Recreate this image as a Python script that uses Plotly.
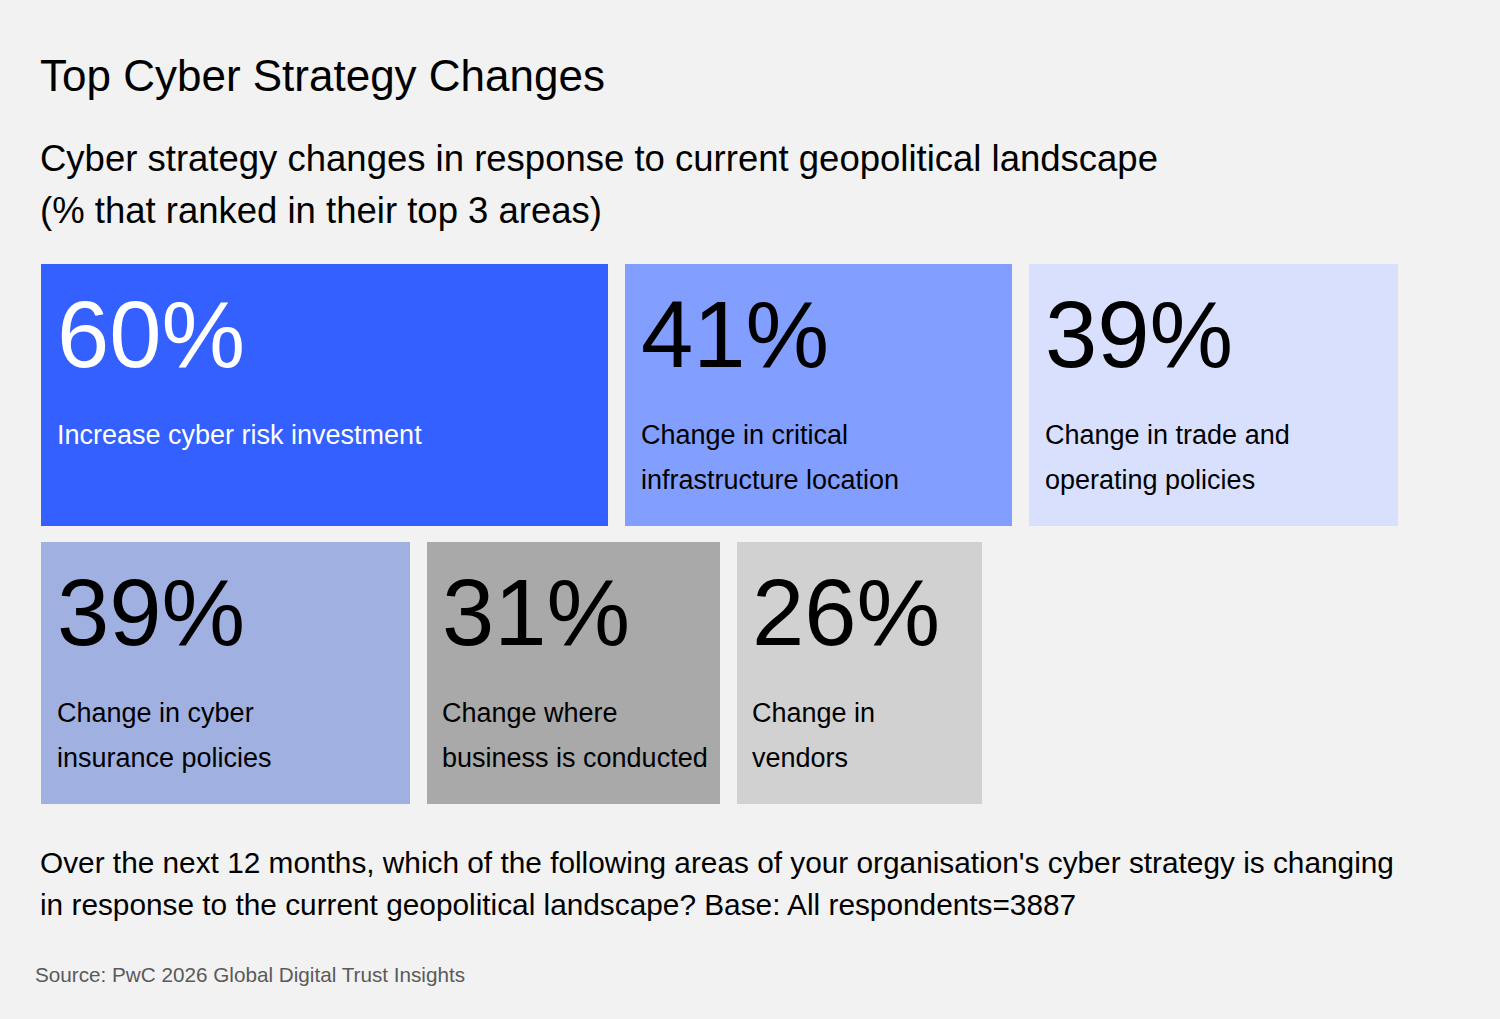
import plotly.graph_objects as go

# ---- data ----
values = [60, 41, 39, 39, 31, 26]
value_labels = ["60%", "41%", "39%", "39%", "31%", "26%"]
categories = [
    "Increase cyber risk investment",
    "Change in critical\ninfrastructure location",
    "Change in trade and\noperating policies",
    "Change in cyber\ninsurance policies",
    "Change where\nbusiness is conducted",
    "Change in\nvendors",
]
rows = [0, 0, 0, 1, 1, 1]
colors = ["#3360fe", "#829efe", "#d8e0fe", "#a0b0e1", "#a9a9a9", "#d1d1d1"]
text_colors = ["#ffffff", "#000000", "#000000", "#000000", "#000000", "#000000"]

title = "Top Cyber Strategy Changes"
subtitle = ["Cyber strategy changes in response to current geopolitical landscape",
            "(% that ranked in their top 3 areas)"]
footer = ["Over the next 12 months, which of the following areas of your organisation's cyber strategy is changing",
          "in response to the current geopolitical landscape? Base: All respondents=3887"]
source = "Source: PwC 2026 Global Digital Trust Insights"

# ---- layout constants ----
W, H = 1500, 1019
PX_PER_UNIT = 9.45
LEFT_PX = 41
GAP = 1.8           # gap between boxes in value units
ROW_TOP = [264, 542]
ROW_H = 262
PAD = 1.75
FONT = "Liberation Sans"

xmin = -LEFT_PX / PX_PER_UNIT
xmax = (W - LEFT_PX) / PX_PER_UNIT

fig = go.Figure()
annotations = []

def add_text(x, baseline, text, size, color="#000000"):
    annotations.append(dict(
        x=x, y=baseline - 0.32 * size, xref="x", yref="y", xshift=-3,
        text=text, showarrow=False, xanchor="left", yanchor="middle",
        font=dict(family=FONT, size=size, color=color), align="left"))

starts = []
cursor = {0: 0.0, 1: 0.0}
for v, r in zip(values, rows):
    starts.append(cursor[r])
    cursor[r] += v + GAP

for i, (v, r) in enumerate(zip(values, rows)):
    top = ROW_TOP[r]
    fig.add_trace(go.Bar(
        orientation="h", x=[v], base=[starts[i]], y=[top + ROW_H / 2],
        width=[ROW_H], marker=dict(color=colors[i], line=dict(width=0)),
        hoverinfo="skip", showlegend=False))
    add_text(starts[i] + PAD, top + 101, value_labels[i], 94, text_colors[i])
    for j, line in enumerate(categories[i].split("\n")):
        add_text(starts[i] + PAD, top + 180 + 44.5 * j, line, 27, text_colors[i])

add_text(0, 90, title, 44, "#000000")
add_text(0, 170, subtitle[0], 36.5, "#000000")
add_text(0, 222, subtitle[1], 36.5, "#000000")
add_text(0, 872, footer[0], 29.8, "#000000")
add_text(0, 914, footer[1], 29.8, "#000000")
add_text(-5 / PX_PER_UNIT, 981, source, 20.7, "#5a5a5a")

fig.update_layout(
    width=W, height=H,
    margin=dict(l=0, r=0, t=0, b=0),
    paper_bgcolor="#f2f2f2", plot_bgcolor="#f2f2f2",
    xaxis=dict(range=[xmin, xmax], visible=False, fixedrange=True),
    yaxis=dict(range=[H, 0], visible=False, fixedrange=True),
    barmode="overlay", bargap=0,
    annotations=annotations,
)

fig.write_html(
    "out.html",
    config={"displayModeBar": False},
    post_script="document.body.style.margin='0';document.body.style.background='#f2f2f2';",
)
